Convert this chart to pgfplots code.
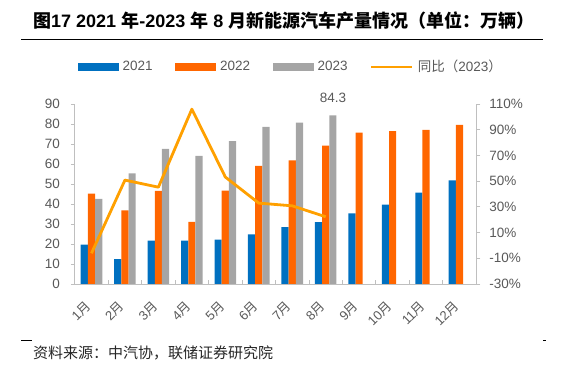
\documentclass[border=0pt]{standalone}
\usepackage{fontspec}
\setmainfont{Liberation Sans}
\newfontfamily\cjk{Noto Sans CJK SC}
\usepackage{pgfplots}
\pgfplotsset{compat=1.18}
\definecolor{cA}{RGB}{0,112,192}
\definecolor{cB}{RGB}{255,102,0}
\definecolor{cC}{RGB}{165,165,165}
\definecolor{cL}{RGB}{255,160,0}
\definecolor{axc}{RGB}{191,191,191}
\definecolor{txt}{RGB}{89,89,89}
\begin{document}
\begin{tikzpicture}[x=1pt,y=1pt]
\path (0,0) rectangle (570,364);
\node[anchor=west, inner sep=0pt] at (33,343) {\fontsize{18}{18}\selectfont\bfseries{\cjk 图}17 2021 {\cjk 年}-2023 {\cjk 年} 8 {\cjk 月新能源汽车产量情况（单位：万辆）}};
\draw[line width=1pt] (21,324.7) -- (543,324.7);
\draw[line width=0.8pt] (21,23.3) -- (32,23.3);
\draw[line width=0.8pt] (543,23.3) -- (546,23.3);
\node[anchor=west, inner sep=0pt, text=black!85] at (33,11) {\cjk\fontsize{15}{15}\selectfont 资料来源：中汽协，联储证券研究院};

% bars
\begin{axis}[at={(74.75pt,80pt)}, anchor=south west, width=401.5pt, height=180pt, scale only axis,
  xmin=-0.5, xmax=11.5, ymin=0, ymax=90,
  axis x line*=bottom, axis y line*=left,
  axis line style={draw=axc, line width=0.8pt},
  tick align=outside, major tick length=4pt,
  ytick={0,10,...,90}, yticklabels={0,10,20,30,40,50,60,70,80,90},
  xtick={0,...,11},
  xticklabels={1{\cjk 月},2{\cjk 月},3{\cjk 月},4{\cjk 月},5{\cjk 月},6{\cjk 月},7{\cjk 月},8{\cjk 月},9{\cjk 月},10{\cjk 月},11{\cjk 月},12{\cjk 月}},
  major x tick style={draw=none},
  major y tick style={draw=axc, line width=0.8pt},
  tick label style={font=\fontsize{13.5}{13.5}\selectfont, text=txt},
  yticklabel style={inner sep=0pt, anchor=east, xshift=-10.75pt},
  xticklabel style={font=\fontsize{13}{13}\selectfont, inner sep=0pt, text height=8.5pt, text depth=0.3pt, xshift=-2.8pt, yshift=-15.8pt, rotate=45, anchor=east},
  bar width=7.2pt, clip=false]
\addplot[ybar, fill=cA, draw=none, bar shift=-7.2pt] coordinates {(0,19.7) (1,12.4) (2,21.7) (3,21.7) (4,22.2) (5,24.8) (6,28.4) (7,30.9) (8,35.3) (9,39.7) (10,45.7) (11,51.8)};
\addplot[ybar, fill=cB, draw=none, bar shift=0pt] coordinates {(0,45.2) (1,36.8) (2,46.6) (3,31.1) (4,46.7) (5,59.1) (6,61.8) (7,69.2) (8,75.7) (9,76.4) (10,77.0) (11,79.6)};
\addplot[ybar, fill=cC, draw=none, bar shift=7.2pt] coordinates {(0,42.6) (1,55.3) (2,67.5) (3,64.1) (4,71.4) (5,78.5) (6,80.7) (7,84.3)};
\node[anchor=south, inner sep=0pt, font=\fontsize{13.5}{13.5}\selectfont, text=txt] at (axis cs:7,84.3) [xshift=7.2pt, yshift=13pt] {84.3};
\end{axis}

% inner separator ticks
\begin{axis}[at={(74.75pt,80pt)}, anchor=south west, width=401.5pt, height=180pt, scale only axis,
  xmin=-0.5, xmax=11.5, ymin=0, ymax=1,
  axis x line*=bottom, axis y line=none,
  axis line style={draw=axc, line width=0.8pt},
  tick align=inside, major tick length=4pt,
  xtick={0.5,1.5,...,10.5}, xticklabels={},
  major x tick style={draw=axc, line width=0.8pt}]
\addplot[draw=none] coordinates {(0,0)};
\end{axis}

% line on right axis
\begin{axis}[at={(74.75pt,80pt)}, anchor=south west, width=401.5pt, height=180pt, scale only axis,
  xmin=-0.5, xmax=11.5, ymin=-30, ymax=110,
  axis y line*=right, axis x line=none,
  axis line style={draw=axc, line width=0.8pt},
  tick align=outside, major tick length=4pt,
  ytick={-30,-10,10,30,50,70,90,110},
  yticklabels={-30\%,-10\%,10\%,30\%,50\%,70\%,90\%,110\%},
  major y tick style={draw=axc, line width=0.8pt},
  tick label style={font=\fontsize{13.5}{13.5}\selectfont, text=txt},
  yticklabel style={inner sep=0pt, anchor=west, xshift=9pt},
  legend columns=4,
  legend style={at={(axis description cs:0.0075,1.207)}, anchor=west, draw=none, fill=none,
    inner sep=0pt, outer sep=0pt, font=\fontsize{13.5}{13.5}\selectfont, text=txt,
    nodes={inner sep=1.5pt},
    /tikz/every odd column/.append style={column sep=3pt},
    /tikz/every even column/.append style={column sep=21pt}},
  clip=false]
\addlegendimage{legend image code/.code={\fill[cA] (0pt,-3.5pt) rectangle (40pt,3.5pt);}}
\addlegendentry{2021}
\addlegendimage{legend image code/.code={\fill[cB] (0pt,-3.5pt) rectangle (40pt,3.5pt);}}
\addlegendentry{2022}
\addlegendimage{legend image code/.code={\fill[cC] (0pt,-3.5pt) rectangle (40pt,3.5pt);}}
\addlegendentry{2023}
\addplot[cL, line width=2.8pt, line join=round,
  legend image code/.code={\draw[cL, line width=2.4pt] (0pt,0pt) -- (41pt,0pt);}]
  coordinates {(0,-6.1) (1,50.8) (2,45.3) (3,106) (4,53.2) (5,32.9) (6,30.8) (7,22.3)};
\addlegendentry{{\cjk 同比（}2023{\cjk ）}}
\end{axis}
\end{tikzpicture}
\end{document}
